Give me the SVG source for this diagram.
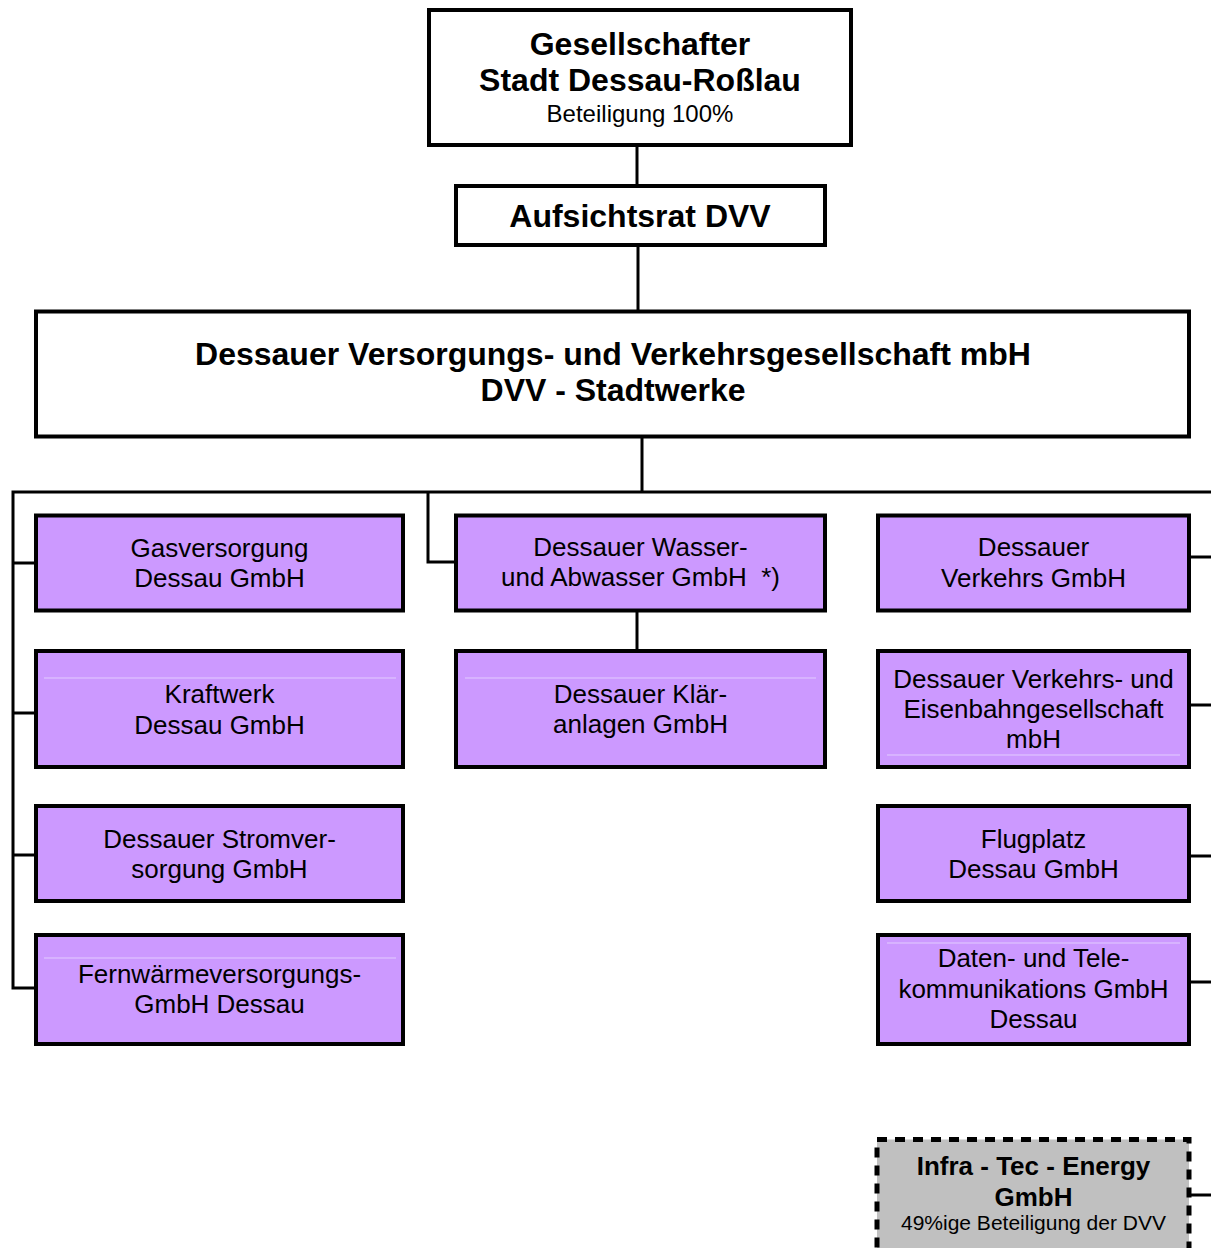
<svg xmlns="http://www.w3.org/2000/svg" width="1211" height="1248" viewBox="0 0 1211 1248">
<style>
.top{fill:#fff;stroke:#000;stroke-width:4}
.box{fill:#CC99FF;stroke:#000;stroke-width:4}
.inf{fill:#C0C0C0;stroke:#000;stroke-width:5;stroke-dasharray:10 8}
.faint{stroke:#E2CCFF;stroke-width:1}
.con{fill:none;stroke:#000;stroke-width:3}
text{font-family:"Liberation Sans",Arial,sans-serif;fill:#000;text-anchor:middle}
.t{font-size:32px;font-weight:bold}
.s{font-size:24px}
.n{font-size:26px}
.ib{font-size:26px;font-weight:bold}
.is{font-size:21px}
</style>
<rect width="1211" height="1248" fill="#fff"/>
<g id="connectors">
<line class="con" x1="637" y1="146" x2="637" y2="186"/>
<line class="con" x1="638" y1="247" x2="638" y2="311"/>
<line class="con" x1="642" y1="438" x2="642" y2="492"/>
<polyline class="con" points="1211,492 13,492 13,988 35,988"/>
<line class="con" x1="13" y1="563" x2="35" y2="563"/>
<line class="con" x1="13" y1="713" x2="35" y2="713"/>
<line class="con" x1="13" y1="855" x2="35" y2="855"/>
<polyline class="con" points="428,492 428,562 455,562"/>
<line class="con" x1="637" y1="612" x2="637" y2="650"/>
<line class="con" x1="1190" y1="557" x2="1211" y2="557"/>
<line class="con" x1="1190" y1="705" x2="1211" y2="705"/>
<line class="con" x1="1190" y1="856" x2="1211" y2="856"/>
<line class="con" x1="1190" y1="982" x2="1211" y2="982"/>
<line class="con" x1="1190" y1="1195" x2="1211" y2="1195"/>
</g>
<g id="gesellschafter">
<rect class="top" x="429" y="10" width="422" height="135"/>
<text class="t" x="640" y="55">Gesellschafter</text>
<text class="t" x="640" y="91">Stadt Dessau-Roßlau</text>
<text class="s" x="640" y="122">Beteiligung 100%</text>
</g>
<g id="aufsichtsrat">
<rect class="top" x="456" y="186" width="369" height="59"/>
<text class="t" x="640" y="227">Aufsichtsrat DVV</text>
</g>
<g id="dvv">
<rect class="top" x="36" y="311.5" width="1153" height="125"/>
<text class="t" x="613" y="365">Dessauer Versorgungs- und Verkehrsgesellschaft mbH</text>
<text class="t" x="613" y="401">DVV - Stadtwerke</text>
</g>
<g id="gas">
<rect class="box" x="36" y="515.5" width="367" height="95"/>
<text class="n" x="219.5" y="557">Gasversorgung</text>
<text class="n" x="219.5" y="587">Dessau GmbH</text>
</g>
<g id="kraftwerk">
<rect class="box" x="36" y="651" width="367" height="116"/>
<line class="faint" x1="44" y1="678" x2="396" y2="678"/>
<text class="n" x="219.5" y="703">Kraftwerk</text>
<text class="n" x="219.5" y="734">Dessau GmbH</text>
</g>
<g id="strom">
<rect class="box" x="36" y="806" width="367" height="95"/>
<text class="n" x="219.5" y="848">Dessauer Stromver-</text>
<text class="n" x="219.5" y="878">sorgung GmbH</text>
</g>
<g id="fernwaerme">
<rect class="box" x="36" y="935" width="367" height="109"/>
<line class="faint" x1="44" y1="958" x2="396" y2="958"/>
<text class="n" x="219.5" y="983">Fernwärmeversorgungs-</text>
<text class="n" x="219.5" y="1013">GmbH Dessau</text>
</g>
<g id="wasser">
<rect class="box" x="456" y="515.5" width="369" height="95"/>
<text class="n" x="640.5" y="556">Dessauer Wasser-</text>
<text class="n" x="640.5" y="586" xml:space="preserve">und Abwasser GmbH  *)</text>
</g>
<g id="klaer">
<rect class="box" x="456" y="651" width="369" height="116"/>
<line class="faint" x1="465" y1="678" x2="816" y2="678"/>
<text class="n" x="640.5" y="703">Dessauer Klär-</text>
<text class="n" x="640.5" y="733">anlagen GmbH</text>
</g>
<g id="verkehrs">
<rect class="box" x="878" y="515.5" width="311" height="95"/>
<text class="n" x="1033.5" y="556">Dessauer</text>
<text class="n" x="1033.5" y="587">Verkehrs GmbH</text>
</g>
<g id="eisenbahn">
<rect class="box" x="878" y="651" width="311" height="116"/>
<line class="faint" x1="887" y1="755" x2="1180" y2="755"/>
<text class="n" x="1033.5" y="688">Dessauer Verkehrs- und</text>
<text class="n" x="1033.5" y="718">Eisenbahngesellschaft</text>
<text class="n" x="1033.5" y="748">mbH</text>
</g>
<g id="flugplatz">
<rect class="box" x="878" y="806" width="311" height="95"/>
<text class="n" x="1033.5" y="848">Flugplatz</text>
<text class="n" x="1033.5" y="878">Dessau GmbH</text>
</g>
<g id="daten">
<rect class="box" x="878" y="935" width="311" height="109"/>
<line class="faint" x1="887" y1="943" x2="1180" y2="943"/>
<text class="n" x="1033.5" y="967">Daten- und Tele-</text>
<text class="n" x="1033.5" y="998">kommunikations GmbH</text>
<text class="n" x="1033.5" y="1028">Dessau</text>
</g>
<g id="infratec">
<rect class="inf" x="877" y="1139.5" width="312" height="120"/>
<text class="ib" x="1033.5" y="1175">Infra - Tec - Energy</text>
<text class="ib" x="1033.5" y="1206">GmbH</text>
<text class="is" x="1033.5" y="1230">49%ige Beteiligung der DVV</text>
</g>
</svg>
